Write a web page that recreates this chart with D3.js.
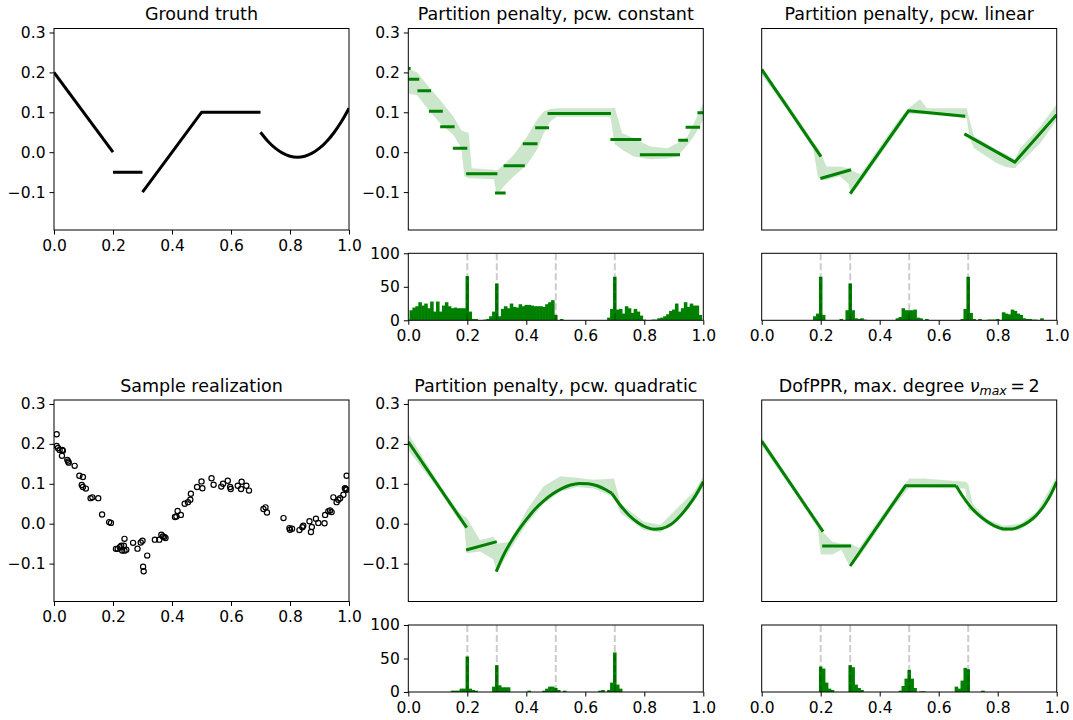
<!DOCTYPE html>
<html>
<head>
<meta charset="utf-8">
<script src="https://cdn.jsdelivr.net/npm/d3@7"></script>
<style>
body { margin: 0; background: #fff; }
text { font-family: "DejaVu Sans", sans-serif; }
</style>
</head>
<body>
<svg id="fig" width="1073" height="720"></svg>
<script>
// ---- data ----
var xTicks = [0, 0.2, 0.4, 0.6, 0.8, 1.0];
var yTicks = [-0.1, 0, 0.1, 0.2, 0.3];
var histTicks = [0, 50, 100];
var breakLines = [0.2, 0.3, 0.5, 0.7];
var titles = ["Ground truth", "Partition penalty, pcw. constant", "Partition penalty, pcw. linear",
              "Sample realization", "Partition penalty, pcw. quadratic"];

// ground truth pieces
var truthSegs = [
  [[0, 0.2], [0.2, 0.0]],
  [[0.2, -0.05], [0.3, -0.05]],
  [[0.3, -0.1], [0.5, 0.1], [0.7, 0.1]],
  [[0.7, 0.05], [0.725, 0.0275], [0.75, 0.01], [0.775, -0.0025], [0.8, -0.01], [0.825, -0.0125],
   [0.85, -0.01], [0.875, -0.0025], [0.9, 0.01], [0.925, 0.0275], [0.95, 0.05], [0.975, 0.0775], [1.0, 0.11]]
];

// sample realization
var sampleX = [0.009,0.009,0.0135,0.019,0.028,0.03,0.027,0.045,0.048,0.05,0.07,0.086,0.098,0.094,0.098,0.108,
  0.124,0.13,0.15,0.163,0.187,0.193,0.21,0.216,0.223,0.228,0.231,0.237,0.239,0.239,0.245,0.268,0.283,0.294,0.3,
  0.302,0.304,0.316,0.342,0.357,0.364,0.369,0.374,0.378,0.41,0.415,0.419,0.43,0.443,0.454,0.462,0.464,0.485,0.5,
  0.503,0.534,0.541,0.567,0.573,0.589,0.597,0.599,0.623,0.636,0.634,0.652,0.661,0.71,0.717,0.722,0.778,0.798,0.8,
  0.807,0.832,0.842,0.845,0.866,0.871,0.874,0.888,0.896,0.917,0.919,0.93,0.936,0.941,0.947,0.958,0.964,0.97,0.981,
  0.986,0.989,0.992,0.992];
var sampleY = [0.224,0.195,0.19,0.185,0.185,0.183,0.17,0.16,0.156,0.153,0.145,0.12,0.117,0.097,0.092,0.088,
  0.064,0.066,0.064,0.023,0.004,0.002,-0.063,-0.063,-0.059,-0.055,-0.067,-0.055,-0.038,-0.0675,-0.065,-0.048,
  -0.0625,-0.047,-0.0425,-0.108,-0.119,-0.08,-0.04,-0.04,-0.0275,-0.032,-0.033,-0.036,0.0167,0.018,0.032,0.022,
  0.05,0.054,0.06,0.075,0.092,0.106,0.089,0.114,0.0975,0.093,0.1,0.1075,0.092,0.087,0.095,0.105,0.087,0.095,
  0.083,0.037,0.041,0.028,0.014,-0.011,-0.015,-0.0125,-0.016,-0.009,-0.005,0.006,-0.021,-0.008,0.0125,0.002,
  0.001,0.022,0.031,0.033,0.029,0.066,0.054,0.06,0.064,0.0725,0.089,0.087,0.12,0.085];

// pcw constant fit: step pieces
var stepX0 = [0, 0, 0.031, 0.07, 0.108, 0.151, 0.196, 0.294, 0.323, 0.388, 0.43, 0.472, 0.685, 0.785, 0.915, 0.94, 0.98];
var stepX1 = [0.008, 0.037, 0.077, 0.117, 0.157, 0.2, 0.302, 0.33, 0.395, 0.438, 0.477, 0.687, 0.79, 0.921, 0.948, 0.989, 1.0];
var stepY  = [0.21, 0.1825, 0.154, 0.1025, 0.064, 0.01, -0.054, -0.1025, -0.034, 0.021, 0.061, 0.097, 0.032, -0.0067, 0.03, 0.0625, 0.099];
var constBandX  = [0, 0.03, 0.06, 0.108, 0.153, 0.18, 0.19, 0.205, 0.215, 0.29, 0.30, 0.323, 0.357, 0.402, 0.436, 0.459, 0.481, 0.504, 0.685, 0.70, 0.725, 0.764, 0.821, 0.878, 0.912, 0.946, 0.968, 1.0];
var constBandHi = [0.21, 0.20, 0.172, 0.131, 0.089, 0.055, 0.052, 0.048, -0.04, -0.044, -0.046, -0.032, -0.007, 0.039, 0.081, 0.102, 0.108, 0.11, 0.11, 0.112, 0.0475, 0.035, 0.014, 0.01, 0.0225, 0.039, 0.0725, 0.1225];
var constBandLo = [0.147, 0.143, 0.114, 0.072, 0.043, 0.01, -0.06, -0.065, -0.065, -0.068, -0.108, -0.086, -0.061, -0.032, 0.006, 0.0475, 0.077, 0.089, 0.089, 0.02, 0.006, -0.011, -0.0175, -0.016, -0.011, 0.018, 0.04, 0.081];

// pcw linear fit
var linSegs = [
  [[0, 0.2075], [0.201, -0.011]],
  [[0.199, -0.066], [0.303, -0.044]],
  [[0.3, -0.104], [0.498, 0.104], [0.69, 0.09]],
  [[0.687, 0.046], [0.858, -0.025], [1.0, 0.094]]
];
var linBandX  = [0, 0.085, 0.175, 0.19, 0.2, 0.22, 0.265, 0.295, 0.302, 0.335, 0.458, 0.498, 0.537, 0.56, 0.695, 0.705, 0.72, 0.797, 0.83, 0.858, 0.876, 0.944, 1.0];
var linBandHi = [0.21, 0.125, 0.025, 0.012, -0.0025, -0.036, -0.036, -0.04, -0.045, -0.055, 0.075, 0.11, 0.1325, 0.11, 0.11, 0.08, 0.04, 0.006, -0.005, -0.018, 0.01, 0.064, 0.12];
var linBandLo = [0.193, 0.108, 0.008, -0.06, -0.07, -0.07, -0.06, -0.08, -0.11, -0.078, 0.052, 0.095, 0.095, 0.095, 0.085, 0.035, 0.01, -0.028, -0.038, -0.04, -0.028, 0.0225, 0.08];

// pcw quadratic fit
var quadSegs = [
  [[0, 0.205], [0.198, -0.01]],
  [[0.196, -0.066], [0.3, -0.045]],
  [[0.298, -0.12], [0.32, -0.083], [0.345, -0.049], [0.37, -0.02], [0.40, 0.01], [0.43, 0.037], [0.46, 0.058],
   [0.49, 0.075], [0.52, 0.088], [0.55, 0.097], [0.58, 0.101], [0.61, 0.1], [0.64, 0.095], [0.67, 0.085], [0.69, 0.076]],
  [[0.69, 0.076], [0.72, 0.045], [0.75, 0.02], [0.78, 0.002], [0.81, -0.01], [0.835, -0.014], [0.86, -0.012],
   [0.89, -0.002], [0.92, 0.018], [0.95, 0.045], [0.975, 0.072], [1.0, 0.105]]
];
var quadBandX  = [0, 0.1, 0.17, 0.19, 0.198, 0.243, 0.289, 0.3, 0.345, 0.402, 0.459, 0.515, 0.572, 0.628, 0.697, 0.72, 0.798, 0.855, 0.968, 1.0];
var quadBandHi = [0.226, 0.105, 0.03, 0.018, 0.015, -0.041, -0.033, -0.05, -0.045, 0.035, 0.094, 0.119, 0.115, 0.11, 0.113, 0.05, 0.005, -0.003, 0.08, 0.118];
var quadBandLo = [0.184, 0.088, 0.01, -0.01, -0.074, -0.07, -0.09, -0.124, -0.065, 0.0, 0.05, 0.08, 0.092, 0.088, 0.067, 0.026, -0.016, -0.022, 0.055, 0.092];

// DofPPR fit
var dofSegs = [
  [[0, 0.207], [0.208, -0.02]],
  [[0.205, -0.056], [0.303, -0.056]],
  [[0.3, -0.106], [0.487, 0.095], [0.659, 0.095]],
  [[0.659, 0.095], [0.68, 0.07], [0.706, 0.044], [0.735, 0.022], [0.763, 0.006], [0.79, -0.006], [0.82, -0.013],
   [0.85, -0.013], [0.876, -0.007], [0.905, 0.005], [0.932, 0.022], [0.96, 0.048], [0.98, 0.073], [1.0, 0.105]]
];
var dofBandX  = [0, 0.1, 0.19, 0.2, 0.24, 0.27, 0.3, 0.33, 0.45, 0.5, 0.55, 0.69, 0.70, 0.715, 0.763, 0.819, 0.876, 0.932, 1.0];
var dofBandHi = [0.215, 0.106, 0.005, -0.015, -0.045, -0.05, -0.05, -0.06, 0.065, 0.113, 0.113, 0.105, 0.1, 0.05, 0.012, -0.005, 0.0, 0.03, 0.118];
var dofBandLo = [0.195, 0.09, -0.01, -0.077, -0.077, -0.065, -0.11, -0.085, 0.045, 0.09, 0.09, 0.088, 0.034, 0.03, -0.002, -0.02, -0.015, 0.013, 0.095];

// breakpoint histograms, 100 bins centred on 0.00 .. 0.99
var histConst = [1,15,19,21,27,22,25,18,28,13, 28,13,22,27,21,18,19,18,18,18,
  66,13,2,2,0,0,1,2,6,13, 55,6,17,21,18,25,20,19,24,21, 23,23,22,21,21,21,20,24,27,30,
  8,0,2,0,0,0,0,0,0,0, 0,0,0,0,0,0,0,0,4,17, 65,16,17,10,21,18,11,17,13,7,
  1,0,0,1,1,3,4,6,9,14, 16,25,13,18,27,20,25,22,22,8];
var histLin = [0,0,0,0,0,0,0,0,0,0, 0,0,0,0,0,0,0,0,6,10,
  65,8,0,0,0,0,0,2,0,15, 55,15,3,2,3,1,0,0,0,0, 0,0,0,0,0,0,3,5,18,15,
  15,15,16,4,3,0,2,0,0,0, 0,0,0,0,0,0,0,0,2,17, 65,11,2,0,2,0,0,1,1,1,
  2,0,12,10,9,16,14,10,8,3, 2,2,1,1,0,3,0,0,0,0];
var histQuad = [0,0,0,0,0,0,0,0,0,0, 0,0,0,0,0,2,2,2,5,5,
  53,5,3,2,0,0,0,0,0,8, 40,10,7,7,7,0,0,0,0,0, 0,2,0,0,0,0,2,5,8,8,
  6,3,0,2,0,0,0,0,0,0, 0,0,0,0,0,2,3,0,3,14, 59,11,5,0,0,0,0,0,0,0,
  0,0,0,0,0,0,0,0,0,0, 0,0,0,0,0,0,0,0,0,0];
var histDof = [0,0,0,0,0,0,0,0,0,0, 0,0,0,0,0,0,0,0,0,0,
  38,35,14,5,3,0,0,0,0,0, 40,37,11,6,3,0,0,0,0,0, 0,0,0,0,0,0,0,2,9,20,
  33,20,6,0,1,1,0,0,0,0, 0,0,0,0,0,0,8,5,17,36, 34,0,0,0,0,2,0,0,0,0,
  0,0,0,0,0,0,0,0,0,0, 0,0,0,0,0,0,0,0,0,0];

// ---- layout ----
var W = 295;
var colLeft = [54, 408.3, 761.7];
var mainTop = [28.5, 400], mainH = 201.5;
var histTop = [253.3, 625], histH = 67;
var yDomain = [-0.195, 0.31];
var green = "#008000";
var fontTick = "15.5px", fontTitle = "17.5px";

var svg = d3.select("#fig");
var clipCount = 0;

function newAxes(left, top, h, yd) {
  var x = d3.scaleLinear().domain([0, 1]).range([left, left + W]);
  var y = d3.scaleLinear().domain(yd).range([top + h, top]);
  var id = "clip" + (clipCount++);
  svg.append("clipPath").attr("id", id).append("rect")
    .attr("x", left).attr("y", top).attr("width", W).attr("height", h);
  var g = svg.append("g");
  var plot = g.append("g").attr("clip-path", "url(#" + id + ")");
  return {g: g, plot: plot, x: x, y: y, left: left, top: top, h: h};
}

function styleAxis(sel) {
  sel.select(".domain").remove();
  sel.selectAll("line").attr("stroke", "#000").attr("stroke-width", 1);
  sel.selectAll("text").attr("font-size", fontTick).attr("fill", "#000")
    .attr("font-family", "DejaVu Sans");
}

function finish(a, showX, yVals, fmt) {
  a.g.append("rect").attr("x", a.left).attr("y", a.top).attr("width", W).attr("height", a.h)
    .attr("fill", "none").attr("stroke", "#000").attr("stroke-width", 1);
  if (showX) {
    a.g.append("g").attr("transform", "translate(0," + (a.top + a.h) + ")")
      .call(d3.axisBottom(a.x).tickValues(xTicks).tickFormat(d3.format(".1f"))
        .tickSize(4.5).tickPadding(5).tickSizeOuter(0))
      .call(styleAxis);
  }
  if (yVals) {
    a.g.append("g").attr("transform", "translate(" + a.left + ",0)")
      .call(d3.axisLeft(a.y).tickValues(yVals).tickFormat(fmt)
        .tickSize(4.5).tickPadding(4).tickSizeOuter(0))
      .call(styleAxis);
  }
}

function title(a, txt) {
  return a.g.append("text").attr("x", a.left + W / 2).attr("y", a.top - 8.5)
    .attr("text-anchor", "middle").attr("font-size", fontTitle).attr("fill", "#000").text(txt);
}

function lineGen(a, curve) {
  return d3.line().x(function(d) { return a.x(d[0]); }).y(function(d) { return a.y(d[1]); })
    .curve(curve || d3.curveLinear);
}

function drawBand(a, bx, lo, hi) {
  var area = d3.area().x(function(d) { return a.x(d[0]); })
    .y0(function(d) { return a.y(d[1]); }).y1(function(d) { return a.y(d[2]); });
  a.plot.append("path").datum(d3.zip(bx, lo, hi)).attr("d", area)
    .attr("fill", green).attr("fill-opacity", 0.2).attr("stroke", "none");
}

function drawSegs(a, segs, color) {
  a.plot.selectAll(null).data(segs).enter().append("path")
    .attr("d", function(d) { return lineGen(a, d.length > 3 ? d3.curveMonotoneX : d3.curveLinear)(d); })
    .attr("fill", "none").attr("stroke", color).attr("stroke-width", 3)
    .attr("stroke-linejoin", "round");
}

function drawHist(col, row, counts, showY) {
  var a = newAxes(colLeft[col], histTop[row], histH, [0, 100]);
  a.plot.selectAll(null).data(counts).enter().append("rect")
    .attr("x", function(d, i) { return a.x(i / 100 - 0.005) - 0.3; })
    .attr("width", function(d, i) { return a.x(i / 100 + 0.005) - a.x(i / 100 - 0.005) + 0.6; })
    .attr("y", function(d) { return a.y(d); })
    .attr("height", function(d) { return a.y(0) - a.y(d); })
    .attr("fill", green);
  a.plot.selectAll(null).data(breakLines).enter().append("line")
    .attr("x1", function(d) { return a.x(d); }).attr("x2", function(d) { return a.x(d); })
    .attr("y1", a.y(0)).attr("y2", a.y(100))
    .attr("stroke", "#000").attr("stroke-opacity", 0.2).attr("stroke-width", 2)
    .attr("stroke-dasharray", "7,3");
  finish(a, true, showY ? histTicks : null, d3.format("d"));
}

var yFmt = d3.format(".1f");

// Ground truth
var p0 = newAxes(colLeft[0], mainTop[0], mainH, yDomain);
drawSegs(p0, truthSegs, "#000");
finish(p0, true, yTicks, yFmt);
title(p0, titles[0]);

// pcw constant
var p1 = newAxes(colLeft[1], mainTop[0], mainH, yDomain);
drawBand(p1, constBandX, constBandLo, constBandHi);
p1.plot.selectAll(null).data(stepY).enter().append("line")
  .attr("x1", function(d, i) { return p1.x(stepX0[i]); })
  .attr("x2", function(d, i) { return p1.x(stepX1[i]); })
  .attr("y1", function(d) { return p1.y(d); }).attr("y2", function(d) { return p1.y(d); })
  .attr("stroke", green).attr("stroke-width", 3);
finish(p1, false, yTicks, yFmt);
title(p1, titles[1]);
drawHist(1, 0, histConst, true);

// pcw linear
var p2 = newAxes(colLeft[2], mainTop[0], mainH, yDomain);
drawBand(p2, linBandX, linBandLo, linBandHi);
drawSegs(p2, linSegs, green);
finish(p2, false, null);
title(p2, titles[2]);
drawHist(2, 0, histLin, false);

// Sample realization
var p3 = newAxes(colLeft[0], mainTop[1], mainH, yDomain);
p3.plot.selectAll(null).data(sampleX).enter().append("circle")
  .attr("cx", function(d) { return p3.x(d); })
  .attr("cy", function(d, i) { return p3.y(sampleY[i]); })
  .attr("r", 2.6).attr("fill", "none").attr("stroke", "#000").attr("stroke-width", 1.2);
finish(p3, true, yTicks, yFmt);
title(p3, titles[3]);

// pcw quadratic
var p4 = newAxes(colLeft[1], mainTop[1], mainH, yDomain);
drawBand(p4, quadBandX, quadBandLo, quadBandHi);
drawSegs(p4, quadSegs, green);
finish(p4, false, yTicks, yFmt);
title(p4, titles[4]);
drawHist(1, 1, histQuad, true);

// DofPPR
var p5 = newAxes(colLeft[2], mainTop[1], mainH, yDomain);
drawBand(p5, dofBandX, dofBandLo, dofBandHi);
drawSegs(p5, dofSegs, green);
finish(p5, false, null);
var t5 = title(p5, "");
t5.append("tspan").text("DofPPR, max. degree ");
t5.append("tspan").attr("font-style", "italic").text("\u03bd");
t5.append("tspan").attr("font-style", "italic").attr("font-size", "12.5px").attr("dy", 3.5).text("max");
t5.append("tspan").attr("dy", -3.5).text("\u2009=\u20092");
drawHist(2, 1, histDof, false);
</script>
</body>
</html>
